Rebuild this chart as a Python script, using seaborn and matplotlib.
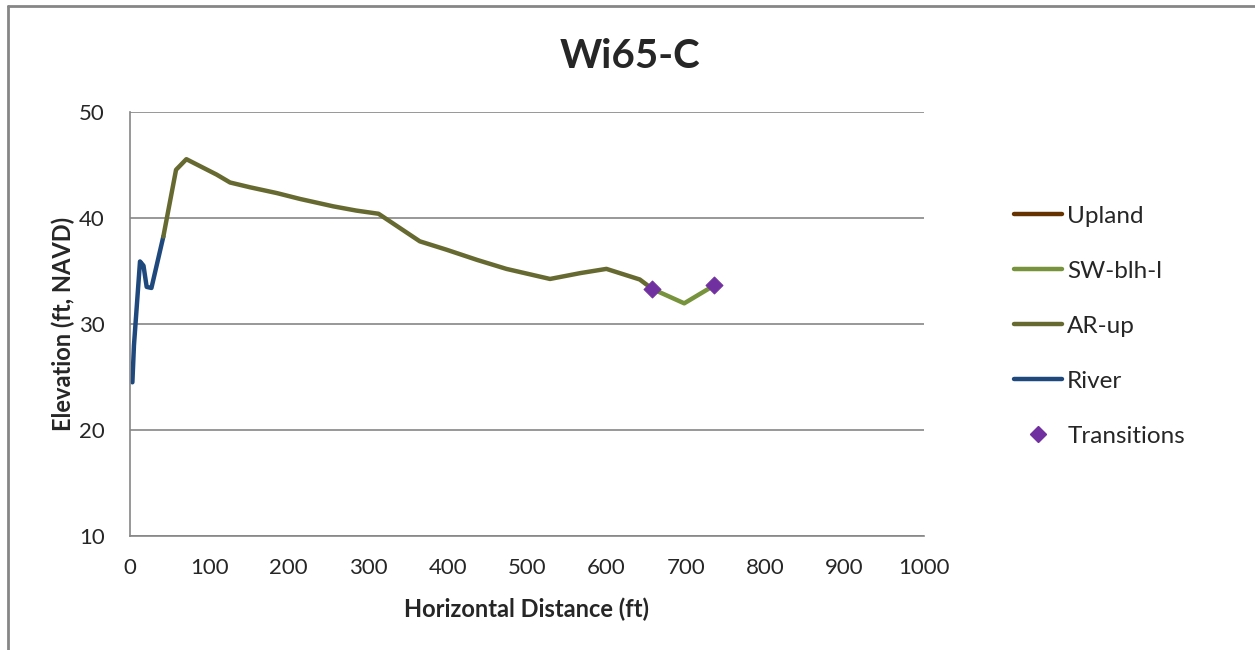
import matplotlib
matplotlib.use("Agg")
import matplotlib.pyplot as plt
import seaborn as sns
from matplotlib.lines import Line2D

# ---- data ----
river_x = [3, 5, 12.6, 17, 21, 27, 42]
river_y = [24.5, 28.0, 35.9, 35.5, 33.5, 33.4, 38.25]

arup_x = [42, 58, 71, 88, 109, 126, 151, 185, 214, 256, 285, 313, 340, 365, 399, 437, 474, 529, 567, 600, 642, 658]
arup_y = [38.25, 44.55, 45.55, 44.9, 44.1, 43.35, 42.9, 42.35, 41.8, 41.1, 40.7, 40.4, 39.05, 37.8, 37.0, 36.05, 35.2, 34.25, 34.8, 35.2, 34.2, 33.3]

swblh_x = [658, 698, 736]
swblh_y = [33.3, 31.95, 33.65]

upland_x = []
upland_y = []

trans_x = [658, 736]
trans_y = [33.3, 33.65]

x_ticks = [0, 100, 200, 300, 400, 500, 600, 700, 800, 900, 1000]
y_ticks = [10, 20, 30, 40, 50]

# ---- style ----
sns.set_style("white")
plt.rcParams['font.family'] = ['Lato', 'DejaVu Sans']

fig = plt.figure(figsize=(12.55, 6.5), dpi=100)
ax = fig.add_axes([130 / 1255, 1 - 536 / 650, (924 - 130) / 1255, (536 - 112) / 650])

c_upland = "#663300"
c_sw = "#77933C"
c_ar = "#666A30"
c_river = "#1F497D"
c_tr = "#7030A0"
lw = 3.2

sns.lineplot(x=river_x, y=river_y, sort=False, color=c_river, lw=lw, ax=ax)
sns.lineplot(x=arup_x, y=arup_y, sort=False, color=c_ar, lw=lw, ax=ax)
sns.lineplot(x=swblh_x, y=swblh_y, sort=False, color=c_sw, lw=lw, ax=ax)
sns.scatterplot(x=trans_x, y=trans_y, marker="D", s=75, color=c_tr, edgecolor=c_tr, ax=ax, zorder=5)

ax.set_xlim(0, 1000)
ax.set_ylim(10, 50)
ax.set_xticks(x_ticks)
ax.set_yticks(y_ticks)
ax.tick_params(axis='both', labelsize=16, length=8, width=1.2, color="#868686", direction='out')
ax.tick_params(axis='y', pad=10)
ax.tick_params(axis='x', pad=8)
ax.yaxis.grid(True, color="#868686", lw=1.2)
ax.xaxis.grid(False)
for s in ['top', 'right']:
    ax.spines[s].set_visible(False)
for s in ['left', 'bottom']:
    ax.spines[s].set_color("#868686")
    ax.spines[s].set_linewidth(1.2)

ax.set_xlabel("Horizontal Distance (ft)", fontsize=17, fontweight='bold', labelpad=14)
ax.set_ylabel("Elevation (ft, NAVD)", fontsize=17, fontweight='bold', labelpad=3)
fig.text(630 / 1255, 1 - 57 / 650, "Wi65-C", fontsize=29, fontweight='bold', ha='center', va='center')

handles = [
    Line2D([], [], color=c_upland, lw=lw),
    Line2D([], [], color=c_sw, lw=lw),
    Line2D([], [], color=c_ar, lw=lw),
    Line2D([], [], color=c_river, lw=lw),
    Line2D([], [], color=c_tr, marker='D', ls='none', markersize=8),
]
labels = ["Upland", "SW-blh-l", "AR-up", "River", "Transitions"]
fig.legend(handles, labels, loc='upper left', bbox_to_anchor=(1004 / 1255, 1 - 196 / 650),
           frameon=False, fontsize=17.5, handlelength=2.0, handletextpad=0.2, labelspacing=1.4,
           borderaxespad=0)

# outer frame (top and left edges visible)
fig.add_artist(Line2D([8 / 1255, 1.0], [1 - 6 / 650, 1 - 6 / 650], color="#868686", lw=2, transform=fig.transFigure))
fig.add_artist(Line2D([8 / 1255, 8 / 1255], [0, 1 - 6 / 650], color="#868686", lw=2, transform=fig.transFigure))

fig.savefig("out.png", dpi=100)
